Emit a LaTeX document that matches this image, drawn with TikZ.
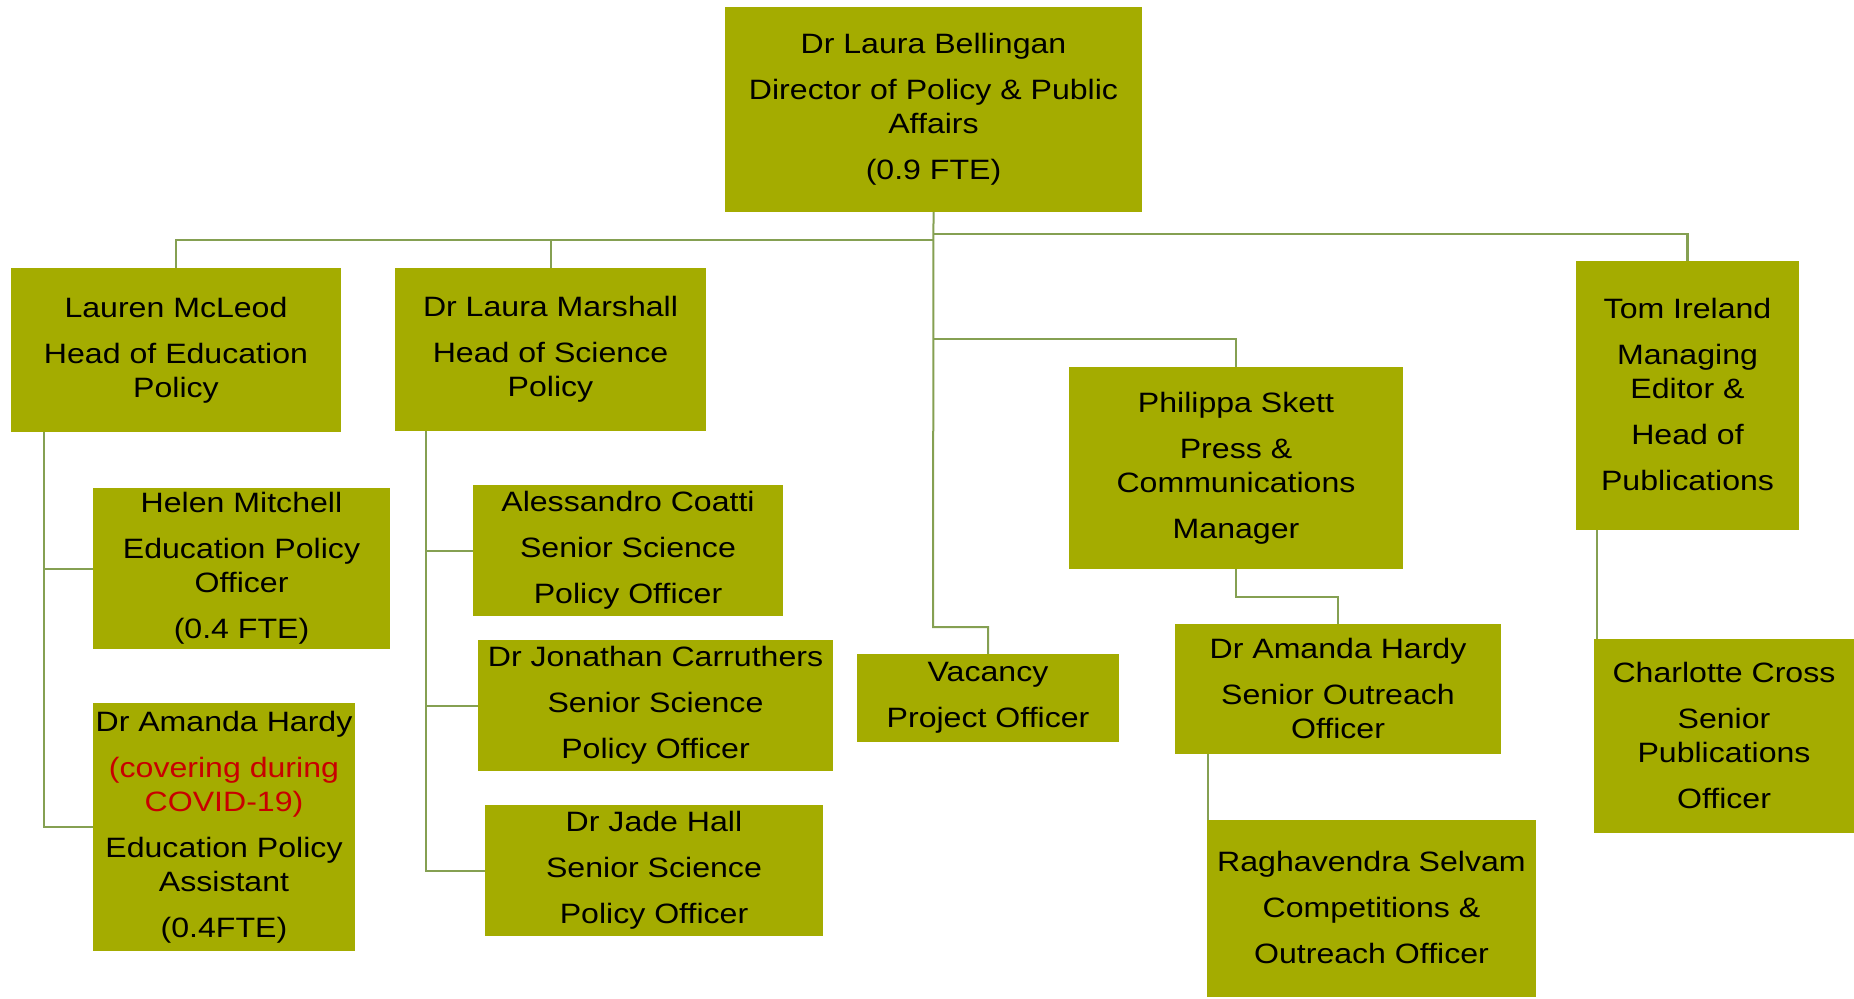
\documentclass[tikz,border=0pt]{standalone}
\usepackage{fontspec}
\setmainfont{Liberation Sans}[FakeStretch=1.146]
\definecolor{boxfill}{RGB}{164,172,0}
\definecolor{linecol}{RGB}{133,160,82}
\definecolor{covid}{RGB}{200,0,0}
\newcommand{\orgstrut}{\rule[-2pt]{0pt}{32pt}}
\tikzset{
  orgbox/.style={fill=boxfill, draw=none, inner sep=0pt, align=center,
    font=\fontsize{28}{34}\selectfont,
    execute at begin node=\orgstrut, execute at end node=\orgstrut},
  conn/.style={draw=linecol, line width=2pt},
  bus/.style={draw=linecol, line width=2.4pt}
}
\begin{document}
\begin{tikzpicture}[x=1pt,y=-1pt]
\useasboundingbox (0,0) rectangle (1854,998);
% boxes
\node[orgbox, minimum width=417, minimum height=205] (top) at (933.5,109.5)
  {Dr Laura Bellingan\\[12pt]Director of Policy \& Public\\Affairs\\[12pt](0.9 FTE)};
\node[orgbox, minimum width=330, minimum height=164] (lauren) at (176,350)
  {Lauren McLeod\\[12pt]Head of Education\\Policy};
\node[orgbox, minimum width=311, minimum height=163] (marshall) at (550.5,349.5)
  {Dr Laura Marshall\\[12pt]Head of Science\\Policy};
\node[orgbox, minimum width=297, minimum height=161] (helen) at (241.5,568.5)
  {Helen Mitchell\\[12pt]Education Policy\\Officer\\[12pt](0.4 FTE)};
\node[orgbox, minimum width=262, minimum height=248] (amanda1) at (224,827)
  {Dr Amanda Hardy\\[12pt]\textcolor{covid}{(covering during}\\\textcolor{covid}{COVID-19)}\\[12pt]Education Policy\\Assistant\\[12pt](0.4FTE)};
\node[orgbox, minimum width=310, minimum height=131] (alessandro) at (628,550.5)
  {Alessandro Coatti\\[12pt]Senior Science\\[12pt]Policy Officer};
\node[orgbox, minimum width=355, minimum height=131] (jonathan) at (655.5,705.5)
  {Dr Jonathan Carruthers\\[12pt]Senior Science\\[12pt]Policy Officer};
\node[orgbox, minimum width=338, minimum height=131] (jade) at (654,870.5)
  {Dr Jade Hall\\[12pt]Senior Science\\[12pt]Policy Officer};
\node[orgbox, minimum width=262, minimum height=88] (vacancy) at (988,698)
  {Vacancy\\[12pt]Project Officer};
\node[orgbox, minimum width=334, minimum height=202] (philippa) at (1236,468)
  {Philippa Skett\\[12pt]Press \&\\Communications\\[12pt]Manager};
\node[orgbox, minimum width=326, minimum height=130] (amanda2) at (1338,689)
  {Dr Amanda Hardy\\[12pt]Senior Outreach\\Officer};
\node[orgbox, minimum width=329, minimum height=177] (ragh) at (1371.5,908.5)
  {Raghavendra Selvam\\[12pt]Competitions \&\\[12pt]Outreach Officer};
\node[orgbox, minimum width=223, minimum height=269] (tom) at (1687.5,395.5)
  {Tom Ireland\\[12pt]Managing\\Editor \&\\[12pt]Head of\\[12pt]Publications};
\node[orgbox, minimum width=260, minimum height=194] (charlotte) at (1724,736)
  {Charlotte Cross\\[12pt]Senior\\Publications\\[12pt]Officer};
% bus coordinates
\coordinate (tv) at (933,627);
\coordinate (bl) at (933,240);
\coordinate (br) at (933,234);
\coordinate (bp) at (933,339);
\coordinate (lv) at (44,0);
\coordinate (mv) at (426,0);
\coordinate (pa) at (1236,597);
\coordinate (rv) at (1208,0);
\coordinate (cv) at (1597,0);
% connectors
\draw[conn] (top.south) -- (tv) -| (vacancy.north);
\draw[bus] (bl) -| (lauren.north);
\draw[conn] (bl -| marshall.north) -- (marshall.north);
\draw[bus] (br) -| (tom.north);
\draw[conn] (bp) -| (philippa.north);
\draw[conn] (lauren.south -| lv) |- (amanda1.west);
\draw[conn] (lv |- helen.west) -- (helen.west);
\draw[conn] (marshall.south -| mv) |- (jade.west);
\draw[conn] (mv |- alessandro.west) -- (alessandro.west);
\draw[conn] (mv |- jonathan.west) -- (jonathan.west);
\draw[conn] (philippa.south) -- (pa) -| (amanda2.north);
\draw[conn] (amanda2.south -| rv) -- (ragh.north -| rv);
\draw[conn] (tom.south -| cv) -- (charlotte.north -| cv);
\end{tikzpicture}
\end{document}
